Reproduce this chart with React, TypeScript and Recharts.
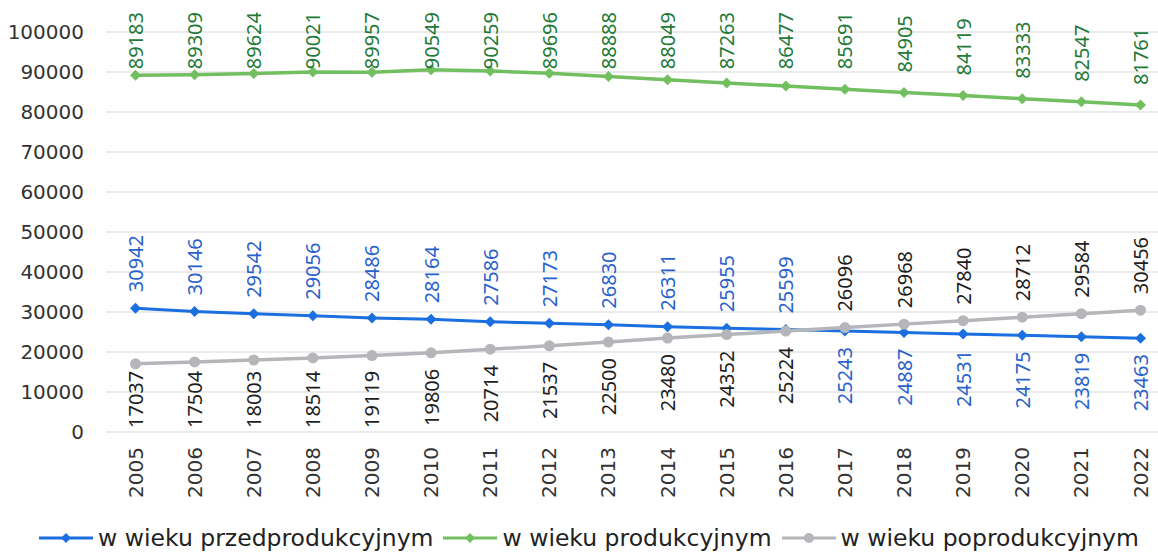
import React from 'react';
import { LineChart, Line, XAxis, YAxis, CartesianGrid, Legend } from 'recharts';

const years = [
  '2005', '2006', '2007', '2008', '2009', '2010', '2011', '2012', '2013',
  '2014', '2015', '2016', '2017', '2018', '2019', '2020', '2021', '2022',
];
const przedprodukcyjny = [
  30942, 30146, 29542, 29056, 28486, 28164, 27586, 27173, 26830,
  26311, 25955, 25599, 25243, 24887, 24531, 24175, 23819, 23463,
];
const produkcyjny = [
  89183, 89309, 89624, 90021, 89957, 90549, 90259, 89696, 88888,
  88049, 87263, 86477, 85691, 84905, 84119, 83333, 82547, 81761,
];
const poprodukcyjny = [
  17037, 17504, 18003, 18514, 19119, 19806, 20714, 21537, 22500,
  23480, 24352, 25224, 26096, 26968, 27840, 28712, 29584, 30456,
];
const yTicks = [0, 10000, 20000, 30000, 40000, 50000, 60000, 70000, 80000, 90000, 100000];

const data = years.map((year, i) => ({
  year,
  przed: przedprodukcyjny[i],
  prod: produkcyjny[i],
  poprod: poprodukcyjny[i],
}));

const BLUE = '#1b6fe0';
const GREEN = '#72bf60';
const GRAY = '#b4b6ba';
const AXIS_FONT = '"Century Gothic", "DejaVu Sans", sans-serif';
const LABEL_FONT = '"Noto Sans", sans-serif';

const PLOT_TOP = 32;
const PLOT_BOTTOM = 432;

const diamondDot = (color: string, r: number) => (props: any) => {
  const { cx, cy, index } = props;
  return (
    <path
      key={`d-${color}-${index}`}
      d={`M${cx},${cy - r}L${cx + r},${cy}L${cx},${cy + r}L${cx - r},${cy}Z`}
      fill={color}
    />
  );
};

const circleDot = (color: string, r: number) => (props: any) => {
  const { cx, cy, index } = props;
  return <circle key={`c-${index}`} cx={cx} cy={cy} r={r} fill={color} />;
};

// rotated value labels, above or below the point, kept inside the plot
const makeLabel =
  (color: string, gap: number, place: (i: number) => 'above' | 'below') =>
  (props: any) => {
    const { x, y, value, index } = props;
    const len = String(value).length * 11.4;
    let ty = y;
    let anchor = 'start';
    if (place(index) === 'above') {
      ty = y - gap;
      anchor = 'start';
      if (ty - len < PLOT_TOP - 20) {
        ty = PLOT_TOP - 20;
        anchor = 'end';
      }
    } else {
      ty = y + gap;
      anchor = 'end';
      if (ty + len > PLOT_BOTTOM - 4) {
        ty = PLOT_BOTTOM - 4;
        anchor = 'start';
      }
    }
    return (
      <text
        key={`l-${color}-${index}`}
        x={x}
        y={ty}
        transform={`rotate(-90 ${x} ${ty})`}
        textAnchor={anchor}
        dominantBaseline="central"
        fontFamily={LABEL_FONT}
        fontSize={20}
        fill={color}
      >
        {value}
      </text>
    );
  };

const blueAbove = (i: number) => przedprodukcyjny[i] >= poprodukcyjny[i];

const YearTick = (props: any) => {
  const { x, y, payload } = props;
  return (
    <text
      x={x}
      y={y}
      transform={`rotate(-90 ${x} ${y})`}
      textAnchor="end"
      dominantBaseline="central"
      fontFamily={AXIS_FONT}
      fontSize={20}
      fill="#333"
    >
      {payload.value}
    </text>
  );
};

const legendItems = [
  { label: 'w wieku przedprodukcyjnym', color: BLUE, marker: 'diamond' },
  { label: 'w wieku produkcyjnym', color: GREEN, marker: 'diamond' },
  { label: 'w wieku poprodukcyjnym', color: GRAY, marker: 'circle' },
];

const renderLegend = () => (
  <div
    style={{
      display: 'flex',
      justifyContent: 'center',
      alignItems: 'center',
      height: 40,
      fontFamily: AXIS_FONT,
      fontSize: 23.5,
      color: '#222',
      whiteSpace: 'nowrap',
      paddingLeft: 8,
    }}
  >
    {legendItems.map((it, i) => (
      <span
        key={it.label}
        style={{ display: 'flex', alignItems: 'center', marginRight: i < 2 ? 10 : 0 }}
      >
        <svg width={54} height={14}>
          <line x1={0} y1={7} x2={54} y2={7} stroke={it.color} strokeWidth={3} />
          {it.marker === 'diamond' ? (
            <path d="M27,2L32,7L27,12L22,7Z" fill={it.color} />
          ) : (
            <circle cx={27} cy={7} r={5} fill={it.color} />
          )}
        </svg>
        <span style={{ marginLeft: 5 }}>{it.label}</span>
      </span>
    ))}
  </div>
);

export default function App() {
  return (
    <div
      style={{
        position: 'fixed',
        left: 0,
        top: 0,
        width: 1158,
        height: 558,
        overflow: 'hidden',
        background: '#fff',
      }}
    >
      <LineChart
        width={1170}
        height={558}
        data={data}
        margin={{ top: PLOT_TOP, right: 0, left: 0, bottom: 0 }}
      >
        <CartesianGrid vertical={false} stroke="#e4e4e4" strokeWidth={1.5} />
        <XAxis
          dataKey="year"
          axisLine={false}
          tickLine={false}
          tickSize={0}
          tickMargin={15}
          height={86}
          interval={0}
          padding={{ left: 29.5, right: 29.5 }}
          tick={<YearTick />}
        />
        <YAxis
          domain={[0, 100000]}
          ticks={yTicks}
          width={106}
          axisLine={false}
          tickLine={false}
          tickSize={0}
          tickMargin={22}
          tick={{ fontFamily: AXIS_FONT, fontSize: 20, fill: '#333' }}
        />
        <Legend verticalAlign="bottom" height={40} content={renderLegend} />
        <Line
          dataKey="przed"
          stroke={BLUE}
          strokeWidth={3}
          dot={diamondDot(BLUE, 5.5)}
          activeDot={false}
          label={makeLabel('#2a62cc', 16, (i) => (blueAbove(i) ? 'above' : 'below'))}
          isAnimationActive={false}
        />
        <Line
          dataKey="prod"
          stroke={GREEN}
          strokeWidth={3.5}
          dot={diamondDot(GREEN, 5.5)}
          activeDot={false}
          label={makeLabel('#237a38', 20, () => 'above')}
          isAnimationActive={false}
        />
        <Line
          dataKey="poprod"
          stroke={GRAY}
          strokeWidth={3.5}
          dot={circleDot(GRAY, 5.5)}
          activeDot={false}
          label={makeLabel('#1e1e1e', 16, (i) => (blueAbove(i) ? 'below' : 'above'))}
          isAnimationActive={false}
        />
      </LineChart>
    </div>
  );
}
